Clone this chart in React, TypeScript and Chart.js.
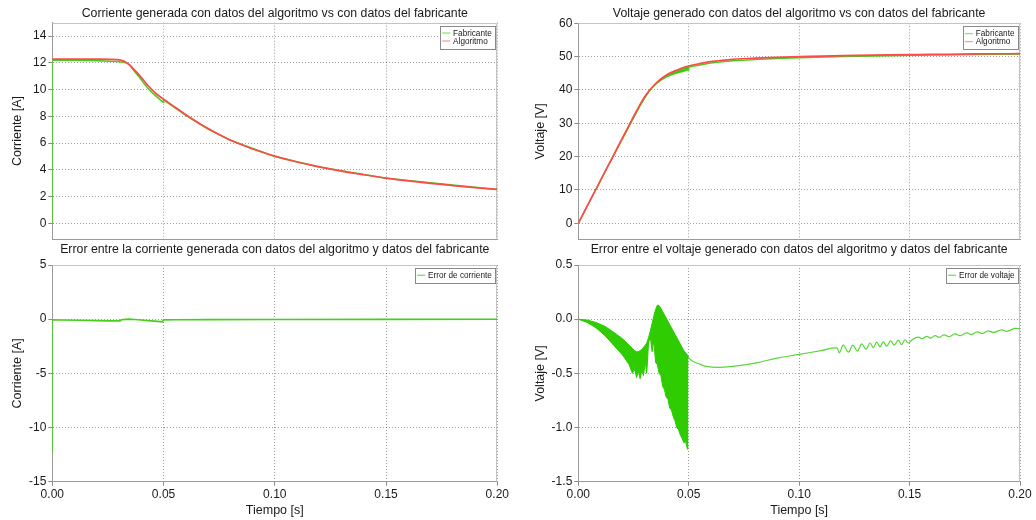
import React, { useEffect, useRef } from "react";
import { Chart, registerables } from "chart.js";
Chart.register(...registerables);

const FONT = '"Liberation Sans", Arial, sans-serif';
const TEXT = "#1a1a1a";
const GRID = "rgba(0,0,0,0.38)";
const RED = "#ff4a4a";
const GREEN = "#45cf1c";
const BAND = "#2ecc00";

// ---- shared x axis ----
const xTickValues = [0, 0.05, 0.1, 0.15, 0.2];
const xTickLabels = ["0.00", "0.05", "0.10", "0.15", "0.20"];

// ---- Panel 1: current ----
const curTicks = [0, 2, 4, 6, 8, 10, 12, 14];
const curTickLabels = ["0", "2", "4", "6", "8", "10", "12", "14"];
const curAlgT = [0, 0.01, 0.02, 0.026, 0.029, 0.031, 0.033, 0.035, 0.037, 0.039, 0.041, 0.043, 0.045, 0.047, 0.05, 0.055, 0.06, 0.065, 0.07, 0.075, 0.08, 0.09, 0.1, 0.11, 0.12, 0.13, 0.14, 0.15, 0.16, 0.17, 0.18, 0.19, 0.2];
const curAlgV = [12.28, 12.28, 12.27, 12.26, 12.24, 12.18, 12.05, 11.8, 11.45, 11.1, 10.7, 10.3, 9.95, 9.65, 9.28, 8.7, 8.12, 7.58, 7.08, 6.63, 6.22, 5.55, 5.02, 4.58, 4.22, 3.9, 3.63, 3.38, 3.17, 2.98, 2.82, 2.67, 2.53];
const curFabT = [0, 0, 0.01, 0.02, 0.026, 0.029, 0.031, 0.033, 0.034, 0.035, 0.037, 0.039, 0.041, 0.043, 0.045, 0.047, 0.0498, 0.05, 0.055, 0.06, 0.07, 0.08, 0.1, 0.12, 0.15, 0.2];
const curFabV = [0, 12.2, 12.19, 12.16, 12.12, 12.1, 12.06, 12.0, 11.95, 11.78, 11.35, 10.95, 10.5, 10.1, 9.75, 9.45, 9.05, 9.23, 8.66, 8.08, 7.05, 6.2, 5.0, 4.21, 3.37, 2.53];

// ---- Panel 2: voltage ----
const voltTicks = [0, 10, 20, 30, 40, 50, 60];
const voltTickLabels = ["0", "10", "20", "30", "40", "50", "60"];
const voltAlgT = [0, 0.005, 0.01, 0.015, 0.02, 0.025, 0.028, 0.03, 0.032, 0.034, 0.036, 0.038, 0.04, 0.042, 0.044, 0.046, 0.048, 0.05, 0.055, 0.06, 0.065, 0.07, 0.08, 0.09, 0.1, 0.12, 0.14, 0.16, 0.18, 0.2];
const voltAlgV = [0, 6.4, 12.8, 19.2, 25.6, 32.0, 35.7, 37.9, 39.7, 41.2, 42.5, 43.6, 44.5, 45.2, 45.8, 46.3, 46.8, 47.2, 47.9, 48.5, 48.9, 49.2, 49.55, 49.8, 50.0, 50.3, 50.5, 50.65, 50.8, 50.9];
const voltFabT = [0, 0.005, 0.01, 0.015, 0.02, 0.025, 0.028, 0.03, 0.032, 0.034, 0.036, 0.038, 0.04, 0.042, 0.044, 0.046, 0.048, 0.0499, 0.05, 0.055, 0.06, 0.065, 0.07, 0.08, 0.09, 0.1, 0.12, 0.14, 0.16, 0.18, 0.2];
const voltFabV = [0, 6.39, 12.76, 19.1, 25.4, 31.7, 35.35, 37.65, 39.55, 41.15, 42.45, 43.45, 44.3, 44.95, 45.5, 45.95, 46.35, 46.0, 46.85, 47.48, 48.06, 48.46, 48.77, 49.15, 49.43, 49.67, 50.03, 50.28, 50.47, 50.66, 50.81];
const voltFabBandT = [0.02, 0.025, 0.028, 0.03, 0.032, 0.034, 0.036, 0.038, 0.04, 0.042, 0.044, 0.046, 0.048, 0.0499];
const voltFabBandHi = [25.6, 32.0, 35.7, 37.9, 39.7, 41.2, 42.5, 43.6, 44.5, 45.2, 45.8, 46.3, 46.8, 47.2];
const voltFabBandLo = [25.25, 31.5, 35.2, 37.4, 39.5, 40.95, 42.15, 43.05, 43.85, 44.4, 44.85, 45.25, 45.6, 46.0];

// ---- Panel 3: current error ----
const errITicks = [-15, -10, -5, 0, 5];
const errITickLabels = ["-15", "-10", "-5", "0", "5"];
const errIT = [0, 0, 0.004, 0.012, 0.02, 0.026, 0.0305, 0.031, 0.033, 0.0345, 0.037, 0.04, 0.043, 0.046, 0.0495, 0.05, 0.055, 0.07, 0.1, 0.15, 0.2];
const errIV = [-12.3, -0.06, -0.08, -0.1, -0.13, -0.16, -0.16, -0.06, -0.02, 0.0, -0.03, -0.08, -0.13, -0.18, -0.25, -0.06, -0.05, -0.04, -0.03, -0.02, -0.01];

// ---- Panel 4: voltage error ----
const errVTicks = [-1.5, -1.0, -0.5, 0.0, 0.5];
const errVTickLabels = ["-1.5", "-1.0", "-0.5", "0.0", "0.5"];
const errVBandT = [0, 0.004, 0.008, 0.012, 0.016, 0.02, 0.023, 0.0245, 0.0255, 0.0264, 0.0272, 0.028, 0.0288, 0.0295, 0.0303, 0.031, 0.0318, 0.0326, 0.0334, 0.0342, 0.035, 0.0358, 0.0366, 0.0374, 0.0382, 0.039, 0.0398, 0.0406, 0.0414, 0.0422, 0.043, 0.0438, 0.0446, 0.0454, 0.0462, 0.047, 0.0478, 0.0486, 0.0494, 0.0499];
const errVBandHi = [0, -0.008, -0.03, -0.065, -0.12, -0.18, -0.24, -0.27, -0.29, -0.3, -0.3, -0.29, -0.28, -0.26, -0.24, -0.22, -0.17, -0.11, -0.04, 0.03, 0.09, 0.13, 0.125, 0.1, 0.07, 0.04, 0.01, -0.02, -0.05, -0.08, -0.11, -0.14, -0.17, -0.2, -0.23, -0.26, -0.29, -0.31, -0.33, -0.35];
const errVBandLo = [0, -0.03, -0.08, -0.15, -0.24, -0.33, -0.42, -0.5, -0.46, -0.54, -0.48, -0.55, -0.47, -0.52, -0.4, -0.5, -0.22, -0.16, -0.3, -0.2, -0.4, -0.42, -0.5, -0.52, -0.62, -0.65, -0.72, -0.74, -0.82, -0.84, -0.9, -0.94, -1.0, -1.02, -1.07, -1.1, -1.14, -1.13, -1.2, -1.19];
const errVT = [0.0499, 0.05, 0.052, 0.055, 0.058, 0.063, 0.07, 0.08, 0.09, 0.1, 0.11, 0.117, 0.1182, 0.12, 0.1223, 0.1243, 0.1264, 0.1283, 0.1303, 0.1321, 0.1336, 0.1351, 0.1366, 0.1381, 0.1396, 0.1415, 0.143, 0.1449, 0.1464, 0.1479, 0.1494, 0.1515, 0.1539, 0.1558, 0.1577, 0.1596, 0.1615, 0.1635, 0.1655, 0.168, 0.1705, 0.173, 0.1758, 0.178, 0.1806, 0.183, 0.1856, 0.188, 0.1917, 0.194, 0.1977, 0.2];
const errVV = [-0.35, -0.36, -0.39, -0.415, -0.435, -0.445, -0.435, -0.405, -0.36, -0.325, -0.29, -0.265, -0.31, -0.24, -0.305, -0.24, -0.295, -0.228, -0.277, -0.22, -0.263, -0.212, -0.256, -0.21, -0.249, -0.2, -0.24, -0.194, -0.234, -0.19, -0.22, -0.185, -0.165, -0.18, -0.158, -0.175, -0.152, -0.168, -0.145, -0.16, -0.135, -0.152, -0.127, -0.142, -0.118, -0.132, -0.108, -0.122, -0.098, -0.112, -0.085, -0.09];

const pts = (t: number[], v: number[]) => t.map((x, i) => ({ x, y: v[i] }));

const decor = {
  id: "decor",
  beforeDatasetsDraw(chart: any) {
    const { ctx, chartArea: a } = chart;
    ctx.save();
    ctx.strokeStyle = "#c4c4c4";
    ctx.lineWidth = 1;
    const L = Math.round(a.left) + 0.5, R = Math.round(a.right) - 0.5;
    const T = Math.round(a.top) + 0.5, B = Math.round(a.bottom) - 0.5;
    ctx.beginPath();
    ctx.moveTo(L, T); ctx.lineTo(R, T); ctx.lineTo(R, B);
    ctx.stroke();
    ctx.restore();
  },
  afterDraw(chart: any, _a: any, opts: any) {
    const { ctx, chartArea: a } = chart;
    ctx.save();
    // title
    ctx.font = `12.3px ${FONT}`;
    ctx.fillStyle = TEXT;
    ctx.textAlign = "center";
    ctx.textBaseline = "middle";
    ctx.fillText(opts.title, (a.left + a.right) / 2, opts.titleY);
    // legend
    const items = opts.legend as { label: string; color: string }[];
    ctx.font = `8.2px ${FONT}`;
    const tw = Math.max(...items.map((it) => ctx.measureText(it.label).width));
    const rowH = 8;
    const w = 2 + 8 + 3 + tw + 3;
    const h = items.length * rowH + 6.6;
    const right = a.right - 2.5;
    const top = a.top + 3;
    const left = right - w;
    ctx.fillStyle = "#ffffff";
    ctx.fillRect(left, top, w, h);
    ctx.strokeStyle = "#8a8a8a";
    ctx.lineWidth = 1;
    ctx.strokeRect(Math.round(left) + 0.5, Math.round(top) + 0.5, Math.round(w), Math.round(h));
    items.forEach((it, i) => {
      const cy = top + 3.3 + rowH * i + rowH / 2;
      ctx.strokeStyle = it.color;
      ctx.lineWidth = 1.3;
      ctx.beginPath();
      ctx.moveTo(left + 2, cy);
      ctx.lineTo(left + 10, cy);
      ctx.stroke();
      ctx.fillStyle = TEXT;
      ctx.textAlign = "left";
      ctx.textBaseline = "middle";
      ctx.fillText(it.label, left + 13, cy + 0.5);
    });
    ctx.restore();
  },
};

type Spec = {
  x: number; y: number; W: number; H: number;
  area: { l: number; r: number; t: number; b: number };
  title: string; titleY: number;
  yMin: number; yMax: number; yTicks: number[]; yLabels: string[];
  yTitle: string; yTitlePad: number;
  showX: boolean;
  datasets: any[];
  legend: { label: string; color: string }[];
};

function buildConfig(s: Spec): any {
  const { W, H, area } = s;
  return {
    type: "line",
    data: { datasets: s.datasets },
    options: {
      responsive: false,
      animation: false,
      devicePixelRatio: 1,
      events: [],
      layout: { padding: { left: 0, top: area.t, right: W - area.r, bottom: 0 } },
      elements: { point: { radius: 0 }, line: { borderWidth: 1.5, tension: 0 } },
      plugins: {
        legend: { display: false },
        title: { display: false },
        tooltip: { enabled: false },
        decor: { title: s.title, titleY: s.titleY, legend: s.legend },
      },
      scales: {
        x: {
          type: "linear",
          min: 0,
          max: 0.2,
          afterBuildTicks: (sc: any) => { sc.ticks = xTickValues.map((v) => ({ value: v })); },
          afterFit: (sc: any) => { sc.height = H - area.b; sc.paddingLeft = 0; sc.paddingRight = 0; },
          ticks: {
            display: s.showX, autoSkip: false, maxRotation: 0, padding: 2,
            font: { family: FONT, size: 12 }, color: TEXT,
            callback: (_v: any, i: number) => xTickLabels[i],
          },
          grid: { color: GRID, drawTicks: s.showX, tickLength: 4, tickColor: "#8a8a8a", tickBorderDash: [] },
          border: { display: true, color: "#9a9a9a", width: 1, dash: [1, 2] },
          title: {
            display: s.showX, text: "Tiempo [s]", color: TEXT,
            font: { family: FONT, size: 12.5 }, padding: { top: 0, bottom: 1.8 },
          },
        },
        y: {
          type: "linear",
          min: s.yMin,
          max: s.yMax,
          afterBuildTicks: (sc: any) => { sc.ticks = s.yTicks.map((v) => ({ value: v })); },
          afterFit: (sc: any) => { sc.width = area.l; sc.paddingTop = 0; sc.paddingBottom = 0; },
          ticks: {
            autoSkip: false, padding: 2,
            font: { family: FONT, size: 12 }, color: TEXT,
            callback: (_v: any, i: number) => s.yLabels[i],
          },
          grid: { color: GRID, drawTicks: true, tickLength: 4, tickColor: "#8a8a8a", tickBorderDash: [] },
          border: { display: true, color: "#9a9a9a", width: 1, dash: [1, 2] },
          title: {
            display: true, text: s.yTitle, color: TEXT,
            font: { family: FONT, size: 12.5 }, padding: { top: s.yTitlePad, bottom: 0 },
          },
        },
      },
    },
    plugins: [decor],
  };
}

function Panel({ spec }: { spec: Spec }) {
  const ref = useRef<HTMLCanvasElement>(null);
  useEffect(() => {
    const chart = new Chart(ref.current as HTMLCanvasElement, buildConfig(spec));
    return () => chart.destroy();
  }, []);
  return (
    <div style={{ position: "absolute", left: spec.x, top: spec.y, width: spec.W, height: spec.H }}>
      <canvas ref={ref} width={spec.W} height={spec.H} style={{ display: "block", width: spec.W, height: spec.H }} />
    </div>
  );
}

const line = (label: string, t: number[], v: number[], color: string, width: number, extra: any = {}) => ({
  label, data: pts(t, v), borderColor: color, backgroundColor: color, borderWidth: width,
  pointRadius: 0, fill: false, ...extra,
});

const specs: Spec[] = [
  {
    x: 0, y: 0, W: 518, H: 242,
    area: { l: 52.3, r: 497.3, t: 22.7, b: 239.3 },
    title: "Corriente generada con datos del algoritmo vs con datos del fabricante", titleY: 13.3,
    yMin: -1.2, yMax: 15, yTicks: curTicks, yLabels: curTickLabels,
    yTitle: "Corriente [A]", yTitlePad: 10.5, showX: false,
    datasets: [
      line("Algoritmo", curAlgT, curAlgV, RED, 1.7, { cubicInterpolationMode: "monotone" }),
      line("Fabricante", curFabT, curFabV, GREEN, 1.6),
    ],
    legend: [
      { label: "Fabricante", color: "rgba(69,207,28,0.6)" },
      { label: "Algoritmo", color: "rgba(255,74,74,0.55)" },
    ],
  },
  {
    x: 518, y: 0, W: 518, H: 242,
    area: { l: 60.3, r: 502, t: 23.3, b: 239.3 },
    title: "Voltaje generado con datos del algoritmo vs con datos del fabricante", titleY: 13.3,
    yMin: -4.8, yMax: 60, yTicks: voltTicks, yLabels: voltTickLabels,
    yTitle: "Voltaje [V]", yTitlePad: 15.5, showX: false,
    datasets: [
      line("Algoritmo", voltAlgT, voltAlgV, RED, 1.7, { cubicInterpolationMode: "monotone" }),
      line("Fabricante", voltFabT, voltFabV, GREEN, 1.5),
      line("FabHi", voltFabBandT, voltFabBandHi, BAND, 0.8),
      line("FabLo", voltFabBandT, voltFabBandLo, BAND, 0.8, { fill: "-1", backgroundColor: BAND }),
    ],
    legend: [
      { label: "Fabricante", color: "rgba(69,207,28,0.6)" },
      { label: "Algoritmo", color: "rgba(255,74,74,0.55)" },
    ],
  },
  {
    x: 0, y: 240, W: 518, H: 280,
    area: { l: 52.3, r: 497.3, t: 25, b: 241.7 },
    title: "Error entre la corriente generada con datos del algoritmo y datos del fabricante", titleY: 10,
    yMin: -15, yMax: 5, yTicks: errITicks, yLabels: errITickLabels,
    yTitle: "Corriente [A]", yTitlePad: 10.5, showX: true,
    datasets: [line("Error de corriente", errIT, errIV, GREEN, 1.6)],
    legend: [{ label: "Error de corriente", color: "rgba(69,207,28,0.7)" }],
  },
  {
    x: 518, y: 240, W: 518, H: 280,
    area: { l: 60.3, r: 502, t: 25, b: 241.7 },
    title: "Error entre el voltaje generado con datos del algoritmo y datos del fabricante", titleY: 10,
    yMin: -1.5, yMax: 0.5, yTicks: errVTicks, yLabels: errVTickLabels,
    yTitle: "Voltaje [V]", yTitlePad: 15, showX: true,
    datasets: [
      line("Error de voltaje", errVT, errVV, "#5ad63a", 1.2, { tension: 0.4 }),
      line("BandHi", errVBandT, errVBandHi, BAND, 1),
      line("BandLo", errVBandT, errVBandLo, BAND, 1, { fill: "-1", backgroundColor: BAND }),
    ],
    legend: [{ label: "Error de voltaje", color: "rgba(69,207,28,0.7)" }],
  },
];

export default function App() {
  return (
    <div style={{ position: "absolute", left: 0, top: 0, width: 1036, height: 520, background: "#fff" }}>
      {specs.map((s, i) => (
        <Panel key={i} spec={s} />
      ))}
    </div>
  );
}
